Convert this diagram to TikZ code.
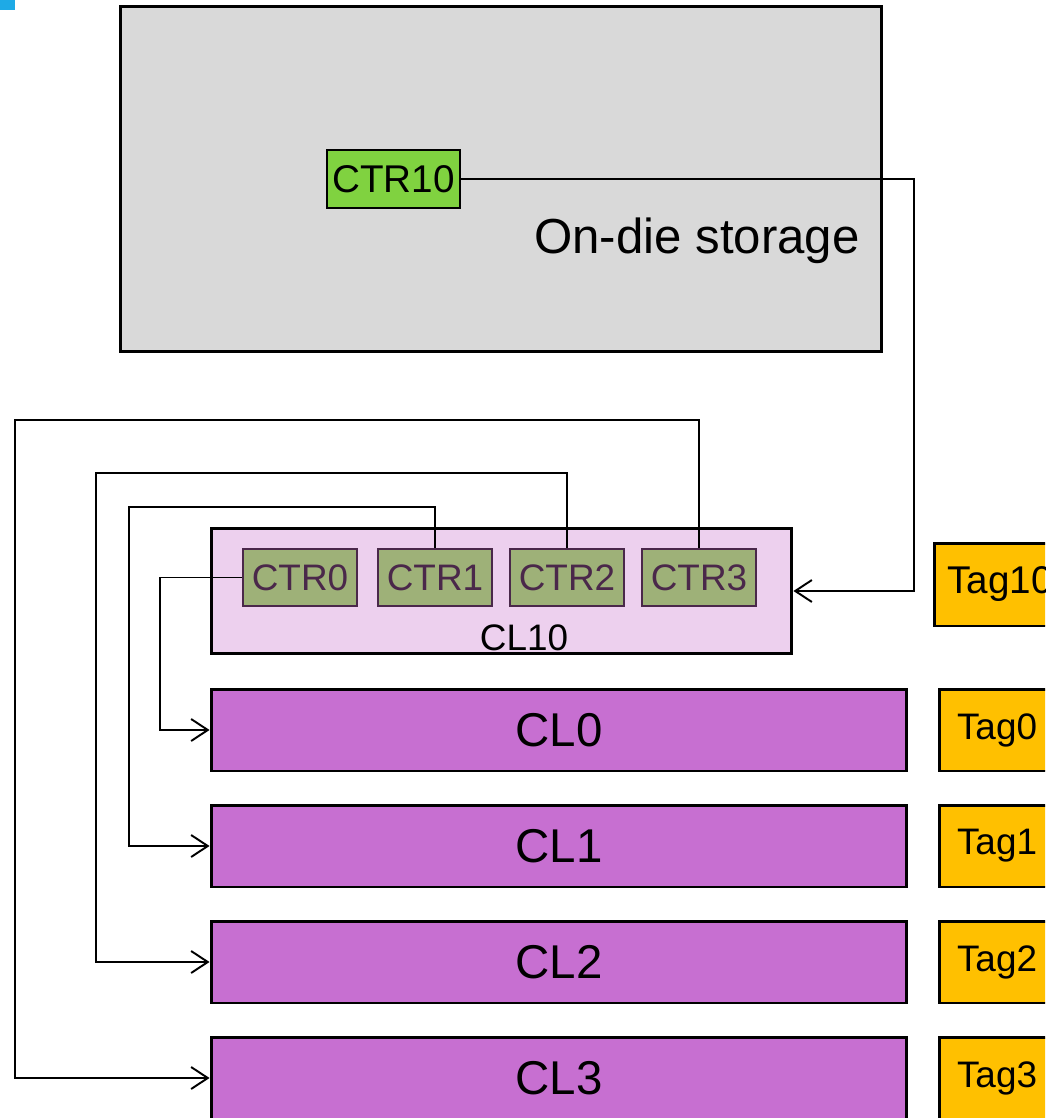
\documentclass[tikz,border=0pt]{standalone}
\usepackage{fontspec}
\setmainfont{Liberation Sans}
\usetikzlibrary{arrows.meta}
\definecolor{storegray}{HTML}{D9D9D9}
\definecolor{ctrtengreen}{RGB}{128,210,64}
\definecolor{ctrgreen}{RGB}{158,177,120}
\definecolor{ctrline}{RGB}{74,40,74}
\definecolor{clpink}{RGB}{237,208,238}
\definecolor{clpurple}{RGB}{199,111,209}
\definecolor{tagyellow}{HTML}{FFC000}
\definecolor{markblue}{RGB}{30,170,230}
\begin{document}
\begin{tikzpicture}[x=0.02cm, y=-0.02cm, >={Straight Barb[length=9.5pt,width=12.5pt]},
  box/.style={draw, line width=1.7pt, inner sep=0pt},
  ctrbox/.style={draw=ctrline, fill=ctrgreen, line width=1.6pt, text=ctrline,
    minimum width=2.28cm, minimum height=1.14cm, inner sep=0pt,
    font=\fontsize{21}{21}\selectfont},
  clbox/.style={box, fill=clpurple, minimum width=13.92cm, minimum height=1.64cm,
    font=\fontsize{27}{27}\selectfont},
  tagbox/.style={box, fill=tagyellow, minimum width=2.32cm, minimum height=1.64cm,
    font=\fontsize{21}{21}\selectfont},
  conn/.style={line width=1.1pt}]
  \useasboundingbox (0,0) rectangle (1045,1118);
  \clip (0,0) rectangle (1045,1118);
  \fill[markblue] (0,0) rectangle (15,10);
  % on-die storage
  \node[box, fill=storegray, minimum width=15.24cm, minimum height=6.92cm] (storage) at (501,179) {};
  \node[font=\fontsize{28}{28}\selectfont] (storelabel) at (697,241) {On-die storage};
  \node[draw, fill=ctrtengreen, line width=1.5pt, minimum width=2.66cm, minimum height=1.16cm,
    inner sep=0pt, font=\fontsize{22}{22}\selectfont] (ctrten) at (393.5,179) {CTR10};
  % counter line
  \node[box, fill=clpink, minimum width=11.62cm, minimum height=2.52cm] (clten) at (501.5,591) {};
  \node[font=\fontsize{21}{21}\selectfont] (cltenlabel) at (524,638) {CL10};
  \foreach \i/\x in {0/300,1/435,2/567,3/699}
    \node[ctrbox] (ctr\i) at (\x,577.5) {CTR\i};
  \node[tagbox, minimum width=2.64cm, minimum height=1.66cm,
    font=\fontsize{22}{22}\selectfont] (tagten) at (1000,584.5) {Tag10};
  % data lines and tags
  \foreach \i/\y in {0/730,1/846,2/962,3/1078} {
    \node[clbox] (cl\i) at (559,\y) {CL\i};
    \node[tagbox] (tag\i) at (997,\y) {Tag\i};
  }
  % connectors
  \coordinate (turn) at (914,179);
  \draw[conn, ->] (ctrten.east) -- (turn) |- (clten.east);
  \draw[conn, ->] (ctr0.west) -- ++(-82,0) |- (cl0.west);
  \foreach \i/\x/\y in {1/129/507, 2/96/473, 3/15/420}
    \draw[conn, ->] (ctr\i.north) |- (\x,\y) |- (cl\i.west);
\end{tikzpicture}
\end{document}
